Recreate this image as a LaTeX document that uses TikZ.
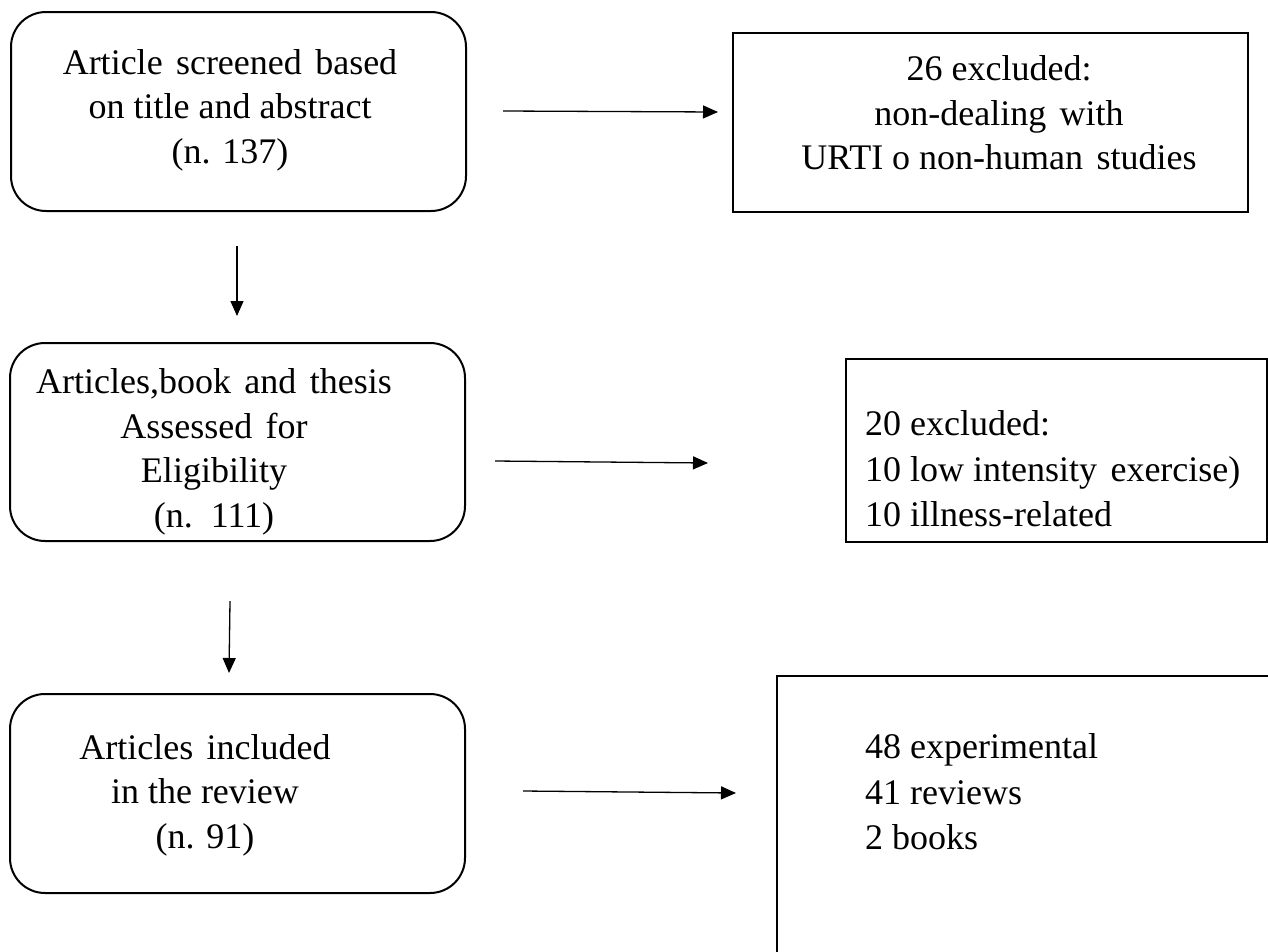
\documentclass[tikz,border=0pt]{standalone}
\usepackage{fontspec}
\setmainfont{Liberation Serif}
\usetikzlibrary{arrows.meta}
\tikzset{
  roundbox/.style={draw=black, line width=2pt, rounded corners=35pt, inner sep=0pt},
  sqbox/.style={draw=black, line width=2pt, inner sep=0pt},
  label/.style={inner sep=0pt, align=center, font=\fontsize{36}{44.5}\selectfont},
  leftlabel/.style={inner sep=0pt, align=left, anchor=west, font=\fontsize{36}{45.5}\selectfont},
  flow/.style={line width=1.3pt, -{Triangle[length=15pt,width=13pt]}}
}
\newcommand{\ws}{\hspace{0.12em}}
\begin{document}
\begin{tikzpicture}[x=1pt,y=-1pt]
\useasboundingbox (0,0) rectangle (1268,951);
\clip (0,0) rectangle (1268,951);
\fill[white] (0,0) rectangle (1268,951);
% left column rounded boxes
\node[roundbox, minimum width=455pt, minimum height=199pt] (b1) at (238.5,111.5) {};
\node[roundbox, minimum width=455pt, minimum height=198pt] (b2) at (237.5,442) {};
\node[roundbox, minimum width=455pt, minimum height=199pt] (b3) at (237.5,793.5) {};
% right column boxes
\node[sqbox, minimum width=515pt, minimum height=179pt] (bA) at (990.5,122.5) {};
\node[sqbox, minimum width=421pt, minimum height=183pt] (bB) at (1056.5,450.5) {};
\node[sqbox, minimum width=523pt, minimum height=324pt] (bC) at (1038.5,838) {};
% texts
\node[label] (t1) at (230,110) {Article\ws{} screened\ws{} based\\ on title and abstract\\ (n. 137)};
\node[label] (t2) at (214,452) {Articles,book\ws{} and\ws{} thesis\\ Assessed\ws{} for\\ Eligibility\\ (n.\ \ 111)};
\node[label] (t3) at (205,795) {Articles\ws{} included\\ in the review\\ (n. 91)};
\node[label] (tA) at (999,113) {26 excluded:\\ non-dealing\ws{} with\\ URTI o non-human\ws{} studies};
\node[leftlabel] (tB) at (865,469) {20 excluded:\\ 10 low intensity\ws{} exercise)\\ 10 illness-related};
\node[leftlabel] (tC) at (865,792) {48 experimental\\ 41 reviews\\ 2 books};
% arrow end points
\coordinate (a1s) at (503,111); \coordinate (a1e) at (718,112);
\coordinate (d1s) at (237,246); \coordinate (d1e) at (237,316);
\coordinate (a2s) at (495,461); \coordinate (a2e) at (708,463);
\coordinate (d2s) at (230,601); \coordinate (d2e) at (229,673);
\coordinate (a3s) at (523,791); \coordinate (a3e) at (736,793);
\draw[flow] (a1s) -- (a1e);
\draw[flow] (d1s) -- (d1e);
\draw[flow] (a2s) -- (a2e);
\draw[flow] (d2s) -- (d2e);
\draw[flow] (a3s) -- (a3e);
\end{tikzpicture}
\end{document}
